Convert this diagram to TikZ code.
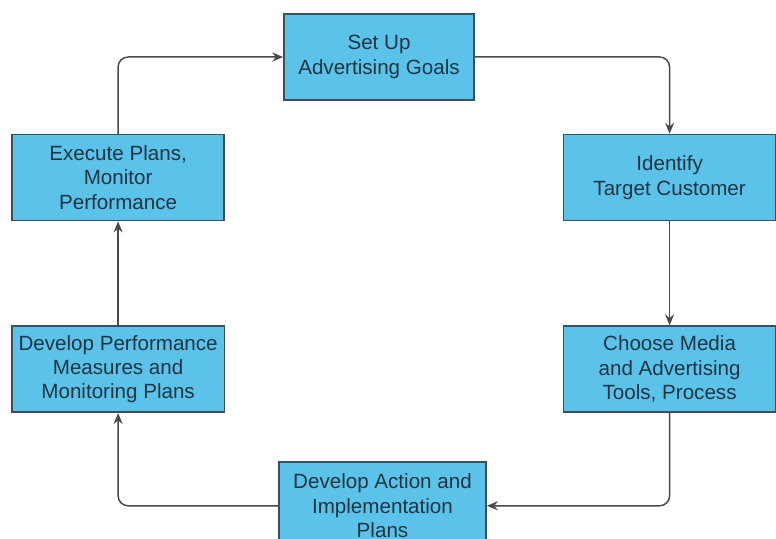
\documentclass[tikz,border=0pt]{standalone}
\usepackage{fontspec}
\setmainfont{Liberation Sans}
\usepackage{xcolor}
\usepackage{tikz}
\usetikzlibrary{arrows.meta,positioning}

\definecolor{boxblue}{HTML}{5BC3EA}
\definecolor{boxline}{HTML}{3D4F5C}
\definecolor{boxtext}{HTML}{1E3441}
\definecolor{linkgray}{HTML}{4A4A4A}

\begin{document}
\begin{tikzpicture}[
    box/.style={rectangle, draw=boxline, line width=0.8pt, fill=boxblue, minimum width=106pt, minimum height=43pt, align=center, text=boxtext, font=\fontsize{10.3}{12.2}\selectfont},
    edge/.style={-{Stealth[length=5.5pt,width=4.5pt]}, draw=linkgray, line width=0.75pt, rounded corners=5pt}
]
    \useasboundingbox (0,0) rectangle (388pt,-269.5pt);

    \node[box, minimum width=95pt] (goals) at (189.5pt,-28.5pt) {Set Up\\Advertising Goals};
    \node[box, below right=16.5pt and 44pt of goals] (target) {Identify\\Target Customer};
    \node[box, below=52pt of target] (media) {Choose Media\\and Advertising\\Tools, Process};
    \node[box, minimum width=103.5pt, minimum height=44pt, below left=24pt and 38pt of media] (action) {Develop Action and\\Implementation\\Plans};
    \node[box, above left=24pt and 26.5pt of action] (perf) {Develop Performance\\Measures and\\Monitoring Plans};
    \node[box, above=52pt of perf] (execute) {Execute Plans,\\Monitor\\Performance};

    \draw[edge] (goals) -| (target);
    \draw[edge] (target) -- (media);
    \draw[edge] (media) |- (action);
    \draw[edge] (action) -| (perf);
    \draw[edge] (perf) -- (execute);
    \draw[edge] (execute) |- (goals);
\end{tikzpicture}
\end{document}
